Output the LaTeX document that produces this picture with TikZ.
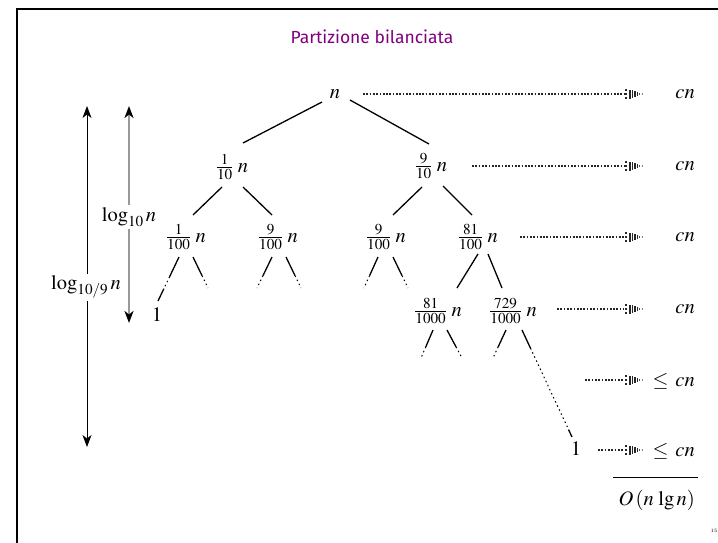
\documentclass[tikz,border=0pt]{standalone}
\usepackage{mathptmx}
\usepackage[no-math]{fontspec}
\newfontfamily\titlefont{Fira Sans}
\usetikzlibrary{arrows.meta,calc}
\definecolor{titlepurple}{RGB}{128,0,128}
\newcommand\partedge[3]{%
  \draw[treeedge] (#1) -- ($(#1)!#3!(#2)$);
  \draw[treedot] ($(#1)!#3!(#2)$) -- (#2);}
\tikzset{
  tn/.style={inner sep=0pt, font=\fontsize{20.5}{24}\selectfont},
  rowlabel/.style={anchor=east, inner sep=0pt, font=\fontsize{20.5}{24}\selectfont},
  loglabel/.style={fill=white, inner sep=2pt, font=\fontsize{20.5}{24}\selectfont},
  titlestyle/.style={text=titlepurple, font=\titlefont\fontsize{17.5}{20}\selectfont},
  treeedge/.style={line width=1.3pt, black},
  treedot/.style={line width=1pt, black, dash pattern=on 1.5pt off 3pt},
  dotline/.style={line width=2.2pt, black!85, dash pattern=on 1.7pt off 1.6pt},
  bigarrow/.style={line width=0.9pt, black, {Stealth[length=12pt,width=9pt,inset=3.5pt]}-{Stealth[length=12pt,width=9pt,inset=3.5pt]}},
  grayarrow/.style={line width=2.2pt, black!40, {Stealth[length=12pt,width=9pt,inset=3.5pt,black]}-{Stealth[length=12pt,width=9pt,inset=3.5pt,black]}},
  dothead/.pic={
    \fill[black!85] (1.2,-4.6) rectangle (2.8,-3);
    \fill[black!85] (1.2,-0.8) rectangle (2.8,0.8);
    \fill[black!85] (1.2,3) rectangle (2.8,4.6);
    \fill[black!85] (5,-4.5) rectangle (6.6,4.5);
    \fill[black!85] (7.6,-4) rectangle (9.2,4);
    \fill[black!85] (10.2,-3) rectangle (11.8,3);
    \fill[black!85] (12.8,-2) rectangle (14.2,2);
    \fill[black!70] (15.2,-1.2) rectangle (16.4,1.2);
    \fill[black!50] (18,-0.7) rectangle (19.4,0.7);
  }
}
\begin{document}
\begin{tikzpicture}[x=1pt,y=-1pt]
\useasboundingbox (0,0) rectangle (718,542);
\fill[white] (0,0) rectangle (718,542);
\draw[line width=2.2pt, line join=miter] (17,545) -- (17,9) -- (721,9);

% title
\node[titlestyle] (title) at (372,37) {Partizione bilanciata};

% tree nodes
\node[tn] (n)  at (335,94)  {$n$};
\node[tn] (a)  at (232,167) {$\frac{1}{10}\;n$};
\node[tn] (b)  at (431,166) {$\frac{9}{10}\;n$};
\node[tn] (c1) at (186,237) {$\frac{1}{100}\;n$};
\node[tn] (c2) at (278,237) {$\frac{9}{100}\;n$};
\node[tn] (c3) at (386,237) {$\frac{9}{100}\;n$};
\node[tn] (c4) at (478,237) {$\frac{81}{100}\;n$};
\node[tn] (d1) at (438,311) {$\frac{81}{1000}\;n$};
\node[tn] (d2) at (513,311) {$\frac{729}{1000}\;n$};
\node[tn] (one1) at (157,315) {$1$};
\node[tn] (one2) at (576,449) {$1$};

% row totals
\node[rowlabel] (r1) at (695,94)  {$cn$};
\node[rowlabel] (r2) at (695,166) {$cn$};
\node[rowlabel] (r3) at (695,237) {$cn$};
\node[rowlabel] (r4) at (695,309) {$cn$};
\node[rowlabel] (r5) at (695,381) {$\leq\,cn$};
\node[rowlabel] (r6) at (695,451) {$\leq\,cn$};
\draw[line width=1pt] (613,477) -- (698,477);
\node[rowlabel] (total) at (695,500) {$O\,(n\,\lg n)$};

% tree edges (solid)
\draw[treeedge] ([shift={(-13,8)}]n.center) -- ([shift={(11,-24)}]a.center);
\draw[treeedge] ([shift={(15,6)}]n.center) -- ([shift={(-2,-22)}]b.center);
\draw[treeedge] ([shift={(-10,20)}]a.center) -- ([shift={(7,-22)}]c1.center);
\draw[treeedge] ([shift={(11,20)}]a.center) -- ([shift={(-6,-22)}]c2.center);
\draw[treeedge] ([shift={(-9,21)}]b.center) -- ([shift={(7,-22)}]c3.center);
\draw[treeedge] ([shift={(12,20)}]b.center) -- ([shift={(-6,-22)}]c4.center);
\draw[treeedge] ([shift={(0,17)}]c4.center) -- ([shift={(19,-23)}]d1.center);
\draw[treeedge] ([shift={(10,17)}]c4.center) -- ([shift={(-11,-23)}]d2.center);

% partial edges
\coordinate (c1l0) at ([shift={(-7,20)}]c1.center);
\coordinate (c1l1) at ([shift={(1,-14)}]one1.center);
\draw[treeedge] (c1l0) -- ($(c1l0)!0.45!(c1l1)$);
\draw[treedot] ($(c1l0)!0.45!(c1l1)$) -- ($(c1l0)!0.72!(c1l1)$);
\draw[treeedge] ($(c1l0)!0.72!(c1l1)$) -- (c1l1);

\coordinate (c1r0) at ([shift={(7,20)}]c1.center);
\coordinate (c1r1) at (208,288);
\partedge{c1r0}{c1r1}{0.6}
\coordinate (c2l0) at ([shift={(-6,20)}]c2.center);
\coordinate (c2l1) at (257,288);
\partedge{c2l0}{c2l1}{0.6}
\coordinate (c2r0) at ([shift={(8,20)}]c2.center);
\coordinate (c2r1) at (301,288);
\partedge{c2r0}{c2r1}{0.6}
\coordinate (c3l0) at ([shift={(-8,20)}]c3.center);
\coordinate (c3l1) at (364,288);
\partedge{c3l0}{c3l1}{0.6}
\coordinate (c3r0) at ([shift={(7,20)}]c3.center);
\coordinate (c3r1) at (408,288);
\partedge{c3r0}{c3r1}{0.6}
\coordinate (d1l0) at ([shift={(-5,19)}]d1.center);
\coordinate (d1l1) at (421,358);
\partedge{d1l0}{d1l1}{0.6}
\coordinate (d1r0) at ([shift={(9,19)}]d1.center);
\coordinate (d1r1) at (462,358);
\partedge{d1r0}{d1r1}{0.6}
\coordinate (d2l0) at ([shift={(-7,19)}]d2.center);
\coordinate (d2l1) at (493,358);
\partedge{d2l0}{d2l1}{0.6}
\coordinate (d2r0) at ([shift={(9,19)}]d2.center);
\coordinate (d2r1) at ([shift={(-4,-12)}]one2.center);
\draw[treeedge] (d2r0) -- ($(d2r0)!0.17!(d2r1)$);
\draw[treedot] ($(d2r0)!0.17!(d2r1)$) -- ($(d2r0)!0.93!(d2r1)$);
\draw[treeedge] ($(d2r0)!0.93!(d2r1)$) -- (d2r1);

% dotted arrows
\foreach \i/\sx/\yy in {1/363/94, 2/472/166, 3/520/237, 4/557/309, 5/585/380, 6/598/450}{
  \coordinate (s\i) at (\sx,\yy);
  \coordinate (e\i) at (624,\yy);
  \draw[dotline] (s\i) -- (e\i);
  \pic at (e\i) {dothead};
}

% height arrows
\coordinate (A1t) at (87,106);
\coordinate (A1b) at (87,447);
\draw[bigarrow] (A1t) -- (A1b);
\node[loglabel] (L1) at (86,287) {$\log_{10/9} n$};
\coordinate (A2t) at (129,106);
\coordinate (A2b) at (129,323);
\draw[grayarrow] (A2t) -- (A2b);
\node[loglabel] (L2) at (129,217) {$\log_{10} n$};

% page number
\node[font=\fontsize{5}{5}\selectfont, inner sep=0pt] (pg) at (714,531) {15};
\end{tikzpicture}
\end{document}
